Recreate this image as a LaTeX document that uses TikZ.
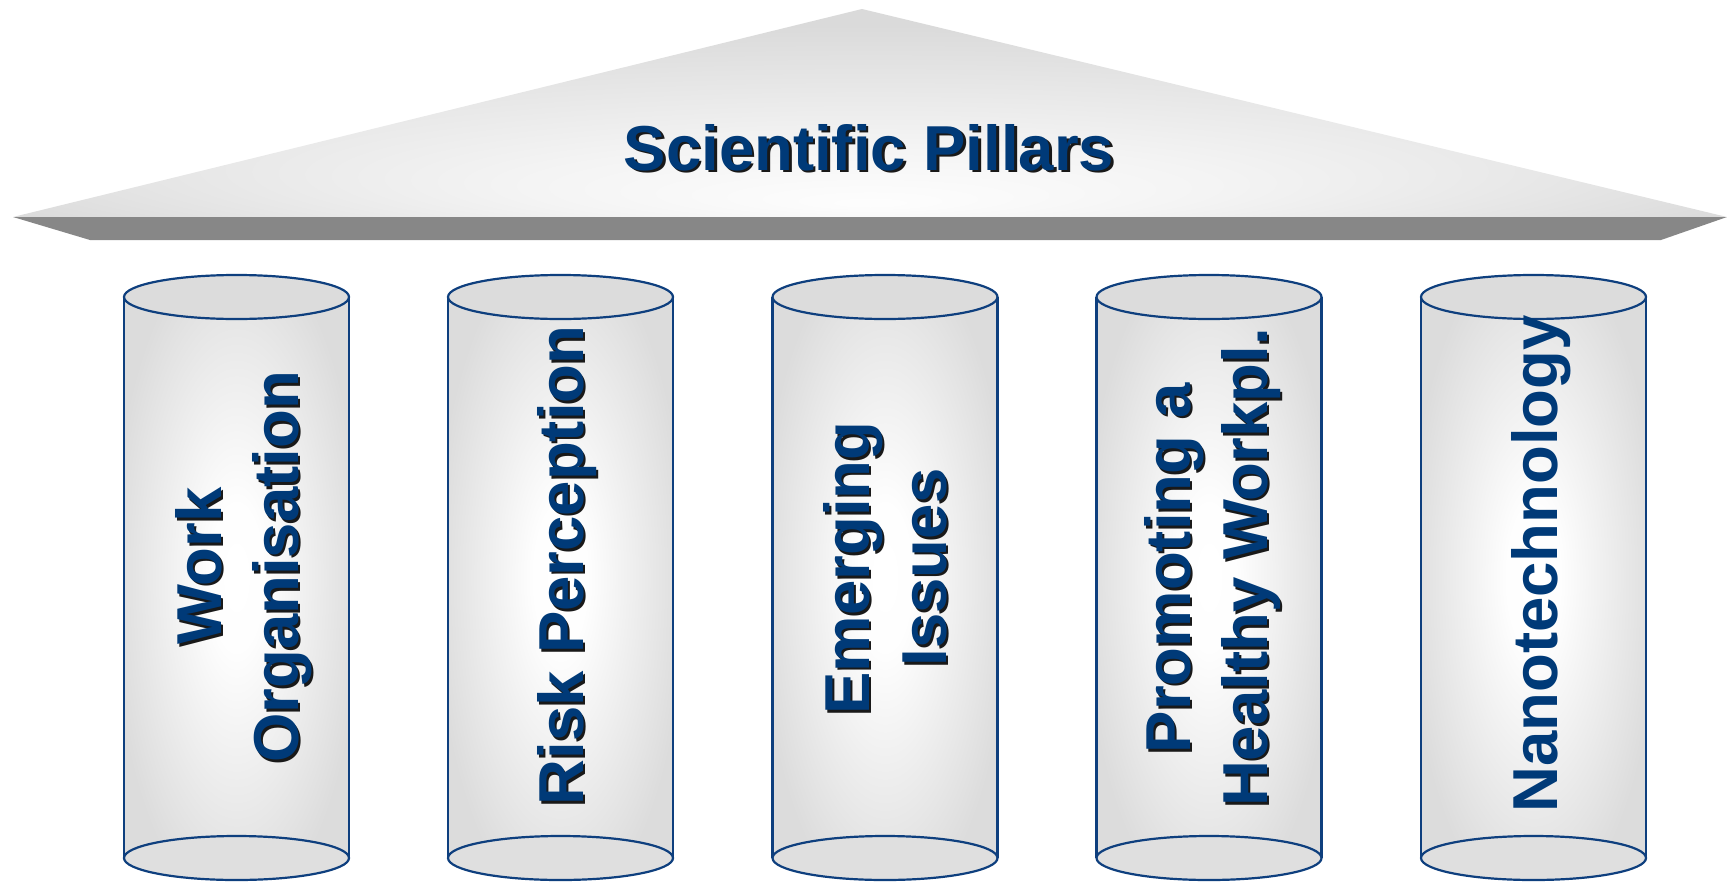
\documentclass[tikz,border=0pt]{standalone}
\usepackage{fontspec}
\setmainfont{Liberation Sans}
\definecolor{txtblue}{HTML}{003A78}
\definecolor{edgeblue}{HTML}{0E3F7E}
\definecolor{pgray}{HTML}{DCDCDC}
\definecolor{roofgray}{HTML}{DADADA}
\definecolor{bandgray}{HTML}{878787}
\pgfdeclareradialshading{pillarshade}{\pgfpoint{0bp}{0bp}}{color(0bp)=(white); color(6bp)=(white!97!pgray); color(28bp)=(pgray); color(50bp)=(pgray)}
\pgfdeclareradialshading{roofshade}{\pgfpoint{0bp}{-22bp}}{color(0bp)=(white!96!roofgray); color(10bp)=(white!70!roofgray); color(30bp)=(roofgray); color(50bp)=(roofgray)}
\tikzset{
  txt/.style={font=\bfseries\fontsize{63.5}{77}\selectfont, text=txtblue, inner sep=0pt},
  shd/.style={font=\bfseries\fontsize{63.5}{77}\selectfont, text=black!90, inner sep=0pt},
  pillarline/.style={draw=edgeblue, line width=2.2pt},
}
% #1 name, #2 x, #3 y, #4 text  (rotated line with drop shadow)
\newcommand{\vlinetext}[4]{%
  \node[shd, rotate=90, anchor=base] (#1s) at ({#2+2.8},{#3+2.8}) {#4};
  \node[txt, rotate=90, anchor=base] (#1) at (#2,#3) {#4};}
% #1 name, #2 center x
\newcommand{\pillar}[2]{%
  \path[shading=pillarshade] ({#2-112.5},297) -- ({#2-112.5},858)
     arc[start angle=180, end angle=360, x radius=112.5pt, y radius=22pt]
     -- ({#2+112.5},297)
     arc[start angle=0, end angle=180, x radius=112.5pt, y radius=22pt] -- cycle;
  \draw[pillarline] ({#2-112.5},297) -- ({#2-112.5},858);
  \draw[pillarline] ({#2+112.5},297) -- ({#2+112.5},858);
  \draw[pillarline, fill=pgray] (#2,297) ellipse [x radius=112.5pt, y radius=22pt];
  \draw[pillarline, fill=pgray!90!white] (#2,858) ellipse [x radius=112.5pt, y radius=22pt];
  \coordinate (#1) at (#2,577);}
\begin{document}
\begin{tikzpicture}[x=1pt, y=-1pt]
\useasboundingbox (0,0) rectangle (1727,881);
% roof
\coordinate (apex) at (862,9);
\coordinate (rl) at (13,217);
\coordinate (rr) at (1727,217);
\coordinate (bl) at (90,240);
\coordinate (br) at (1661,240);
\path[shading=roofshade] (rl) -- (apex) -- (rr) -- cycle;
\fill[bandgray] (rl) -- (rr) -- (br) -- (bl) -- cycle;
\node[shd, anchor=base] (titles) at (871.8,172.8) {Scientific Pillars};
\node[txt, anchor=base] (title) at (869,170) {Scientific Pillars};
% pillars
\pillar{p1}{236.5}
\pillar{p2}{560.5}
\pillar{p3}{885}
\pillar{p4}{1209}
\pillar{p5}{1533.5}
% texts
\vlinetext{t1a}{221}{566}{Work}
\vlinetext{t1b}{298}{567}{Organisation}
\vlinetext{t2}{583}{565.5}{Risk Perception}
\vlinetext{t3a}{869}{568}{Emerging}
\vlinetext{t3b}{946}{567.5}{Issues}
\vlinetext{t4a}{1190}{568}{Promoting a}
\vlinetext{t4b}{1267}{567.5}{Healthy Workpl.}
\node[txt, rotate=90, anchor=base] (t5) at (1557,564) {Nanotechnology};
\end{tikzpicture}
\end{document}
